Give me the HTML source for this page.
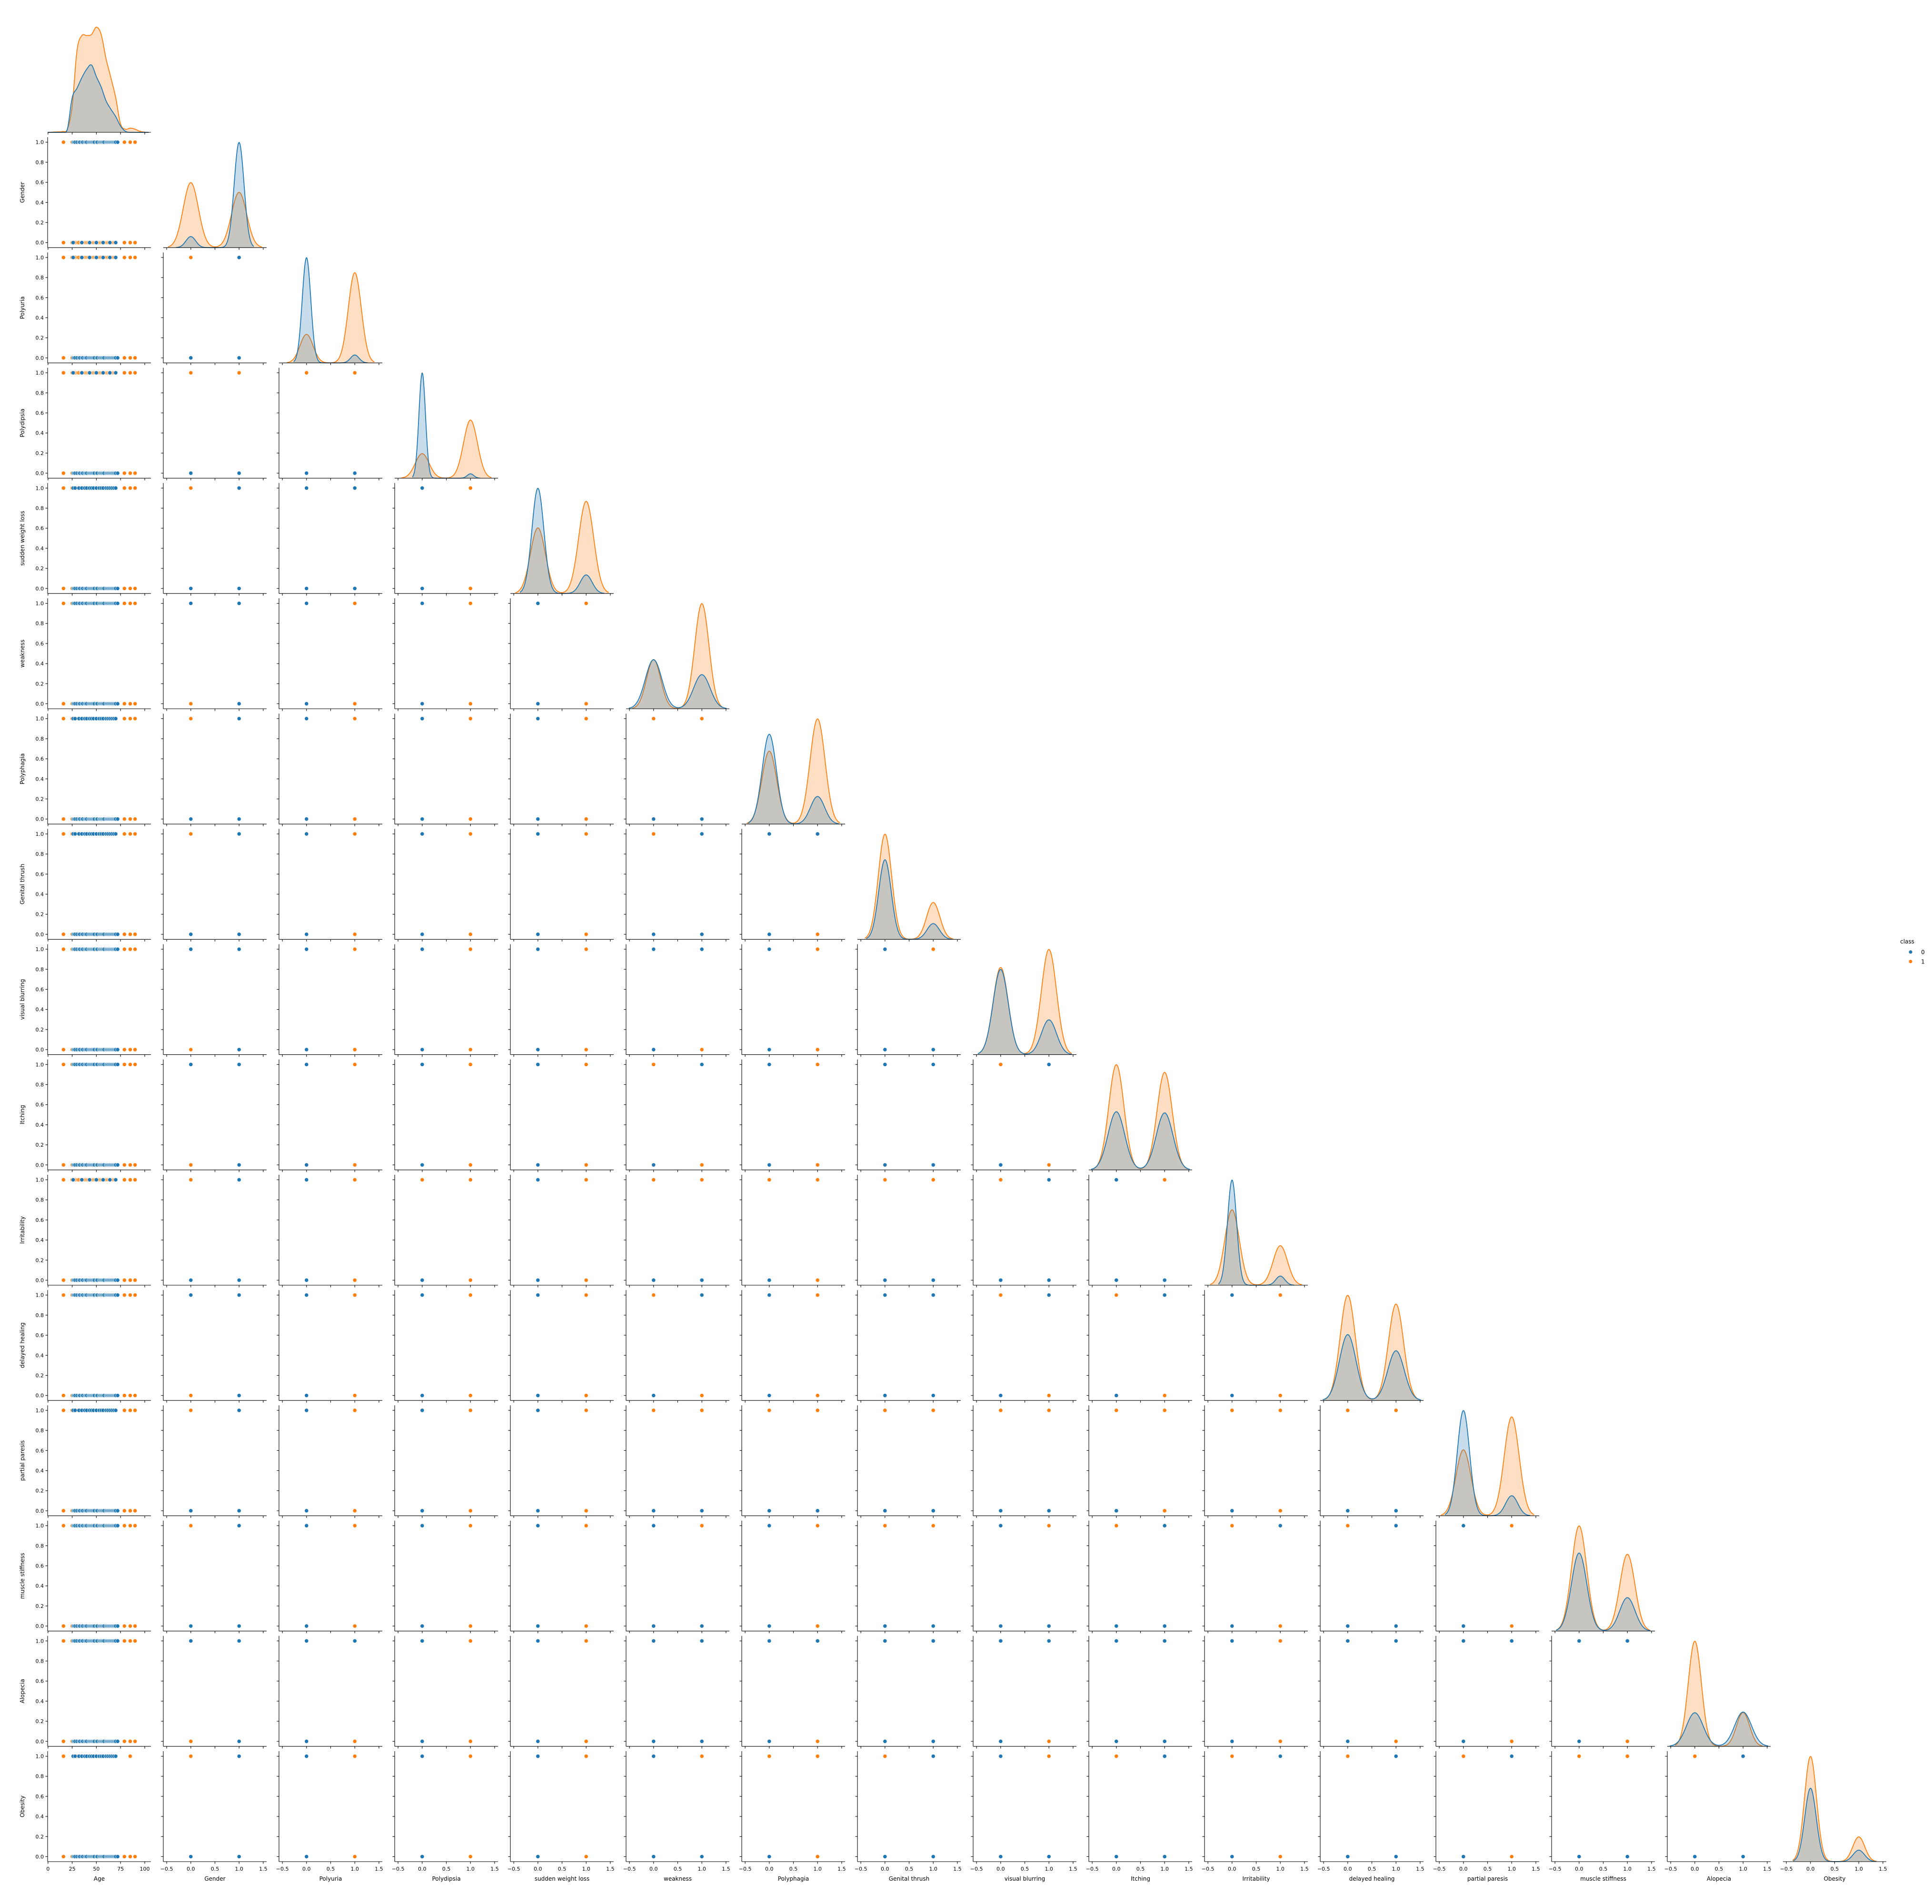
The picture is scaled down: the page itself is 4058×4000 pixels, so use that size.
<!DOCTYPE html>
<html><head><meta charset="utf-8"><title>Pairplot</title>
<style>
html,body{margin:0;padding:0;background:#fff;}
svg{display:block;font-family:"DejaVu Sans","Liberation Sans",sans-serif;}
</style></head>
<body>
<svg id="chart" xmlns="http://www.w3.org/2000/svg" width="4058" height="4000" viewBox="0 0 4058 4000"></svg>
<script>
// ---- data ----
const varNames = ["Age","Gender","Polyuria","Polydipsia","sudden weight loss","weakness","Polyphagia","Genital thrush","visual blurring","Itching","Irritability","delayed healing","partial paresis","muscle stiffness","Alopecia","Obesity"];
const classSizes = [200, 320];
const yesCountClass0 = [0,181,14,8,30,82,47,33,58,99,16,86,32,60,101,27];
const yesCountClass1 = [0,147,243,225,187,218,189,83,175,154,110,153,192,135,78,61];
const ageGrid = [0,5,10,15,20,25,30,35,40,45,50,55,60,65,70,75,80,85,90,95,100,104];
const ageDensity0 = [0,0,0,0,0.03,0.33,0.42,0.52,0.6,0.64,0.53,0.43,0.3,0.22,0.15,0.06,0.01,0,0,0,0,0];
const ageDensity1 = [0,0.002,0.004,0.008,0.03,0.25,0.78,0.92,0.92,0.93,1.0,0.93,0.7,0.52,0.33,0.08,0.03,0.04,0.03,0.01,0.002,0];
const agesClass0 = [26,27,28,30,32,33,35,36,38,39,40,42,43,44,45,46,47,48,50,51,53,54,55,56,57,58,60,61,62,63,64,65,66,67,68,69,70,72];
const agesClass1 = [16,25,27,28,30,31,32,34,35,36,37,38,39,40,41,42,43,45,46,47,48,49,50,51,52,53,54,55,56,57,58,59,60,61,62,63,64,65,66,67,68,69,70,79,85,90];
// cell colours at corners: (0,1),(1,1),(0,0),(1,0); b=class 0, o=class 1
const cornerColors = {
"2-1":"obbb",
"3-1":"oobb","3-2":"oobb",
"4-1":"obbb","4-2":"bbbb","4-3":"bobo",
"5-1":"bbob","5-2":"bobo","5-3":"bobo","5-4":"bobo",
"6-1":"obbb","6-2":"bobo","6-3":"bobo","6-4":"bobo","6-5":"oobb",
"7-1":"obbb","7-2":"bobo","7-3":"bobo","7-4":"bobo","7-5":"obbb","7-6":"bbbo",
"8-1":"bbob","8-2":"bobo","8-3":"bobo","8-4":"bobo","8-5":"bbbo","8-6":"bobo","8-7":"bobb",
"9-1":"bbob","9-2":"bobo","9-3":"bobo","9-4":"bobo","9-5":"obbo","9-6":"bobo","9-7":"bbbb","9-8":"obbo",
"10-1":"obbb","10-2":"bobo","10-3":"oobo","10-4":"bobo","10-5":"oobb","10-6":"oobo","10-7":"oobb","10-8":"obbb","10-9":"bobb",
"11-1":"bbob","11-2":"bobo","11-3":"bobo","11-4":"bobo","11-5":"obbo","11-6":"bobo","11-7":"bbbb","11-8":"obbo","11-9":"obbo","11-10":"bobo",
"12-1":"obbb","12-2":"bobo","12-3":"bobo","12-4":"bobo","12-5":"oobb","12-6":"oobb","12-7":"oobb","12-8":"oobb","12-9":"oobo","12-10":"oobo","12-11":"oobb",
"13-1":"obbb","13-2":"bobo","13-3":"bobo","13-4":"bobo","13-5":"bobb","13-6":"bobo","13-7":"oobb","13-8":"bobb","13-9":"obbb","13-10":"obbo","13-11":"obbb","13-12":"bobo",
"14-1":"bbob","14-2":"bbbo","14-3":"bobo","14-4":"bobo","14-5":"bbbb","14-6":"bbbo","14-7":"bbbb","14-8":"bbbo","14-9":"bbbb","14-10":"bobo","14-11":"bbbo","14-12":"bbbo","14-13":"bbbo",
"15-1":"obbb","15-2":"bobo","15-3":"bobo","15-4":"bobo","15-5":"bobb","15-6":"oobo","15-7":"obbb","15-8":"bobb","15-9":"obbb","15-10":"obbo","15-11":"obbb","15-12":"obbo","15-13":"oobb","15-14":"obbb"
};
const ageTicks = [0,25,50,75,100];
const binTicks = [-0.5,0,0.5,1,1.5];
const binTickLabels = ["\u22120.5","0.0","0.5","1.0","1.5"];
const yTicks = [0,0.2,0.4,0.6,0.8,1.0];
const yTickLabels = ["0.0","0.2","0.4","0.6","0.8","1.0"];

// ---- layout ----
const NS = "http://www.w3.org/2000/svg";
const svg = document.getElementById("chart");
const BLUE = "#1f77b4", ORANGE = "#ff7f0e";
const W = 217, H = 232;
function colLeft(j){ return 100 + j*243; }
function rowBottom(i){ return 278 + i*242.2; }
function mk(tag, attrs, parent){ const e = document.createElementNS(NS, tag); for (const k in attrs) e.setAttribute(k, attrs[k]); (parent||svg).appendChild(e); return e; }
function xScale(j){ const l = colLeft(j); if (j===0) return v => l + (v+0.4)/106.8*W; return v => l + (v+0.57)/2.14*W; }
function yScale(i){ const b = rowBottom(i); return v => b - (v+0.05)/1.1*H; }

function kdeBinary(c, n, bwF){
  const p = c/n; const sd = Math.sqrt(p*(1-p)*n/(n-1)); const bw = bwF*sd;
  const xs=[], ys=[]; const lo=-3*bw, hi=1+3*bw;
  for (let k=0;k<=200;k++){ const x=lo+(hi-lo)*k/200;
    const g0=Math.exp(-0.5*(x/bw)**2), g1=Math.exp(-0.5*((x-1)/bw)**2);
    ys.push(((n-c)*g0 + c*g1)/(bw*Math.sqrt(2*Math.PI))/ (classSizes[0]+classSizes[1])); xs.push(x); }
  return {xs, ys};
}
function catmull(gx, gy, steps){
  const xs=[], ys=[];
  for (let k=0;k<gx.length-1;k++){
    const p0=gy[Math.max(k-1,0)], p1=gy[k], p2=gy[k+1], p3=gy[Math.min(k+2,gy.length-1)];
    for (let s=0;s<steps;s++){ const t=s/steps;
      const v=0.5*((2*p1)+(-p0+p2)*t+(2*p0-5*p1+4*p2-p3)*t*t+(-p0+3*p1-3*p2+p3)*t*t*t);
      xs.push(gx[k]+(gx[k+1]-gx[k])*t); ys.push(Math.max(0,v)); }
  }
  xs.push(gx[gx.length-1]); ys.push(gy[gy.length-1]);
  return {xs, ys};
}

function drawXAxis(i, j, g){
  const b = rowBottom(i), l = colLeft(j), xs = xScale(j);
  const spine = mk("line",{x1:l,x2:l+W,y1:b,y2:b,stroke:"#000","stroke-width":1.1},g);
  
  
  const ticks = j===0 ? ageTicks : binTicks;
  ticks.forEach((t,k)=>{
    const x = xs(t);
    mk("line",{x1:x,x2:x,y1:b,y2:b+4.5,stroke:"#000","stroke-width":1.1},g);
    if (i===15){
      const tx = mk("text",{x:x,y:b+19,"font-size":11,"text-anchor":"middle",fill:"#000"},g);
      tx.textContent = j===0 ? String(t) : binTickLabels[k];
      
      
    }
  });
  if (i===15){
    const lab = mk("text",{x:l+W/2,y:b+40,"font-size":12,"text-anchor":"middle",fill:"#000"},g);
    lab.textContent = varNames[j];
    
    
  }
}
function drawYAxis(i, j, g){
  const b = rowBottom(i), l = colLeft(j), ys = yScale(i);
  const spine = mk("line",{x1:l,x2:l,y1:b,y2:b-H,stroke:"#000","stroke-width":1.1},g);
  
  
  yTicks.forEach((t,k)=>{
    const y = ys(t);
    mk("line",{x1:l-4.5,x2:l,y1:y,y2:y,stroke:"#000","stroke-width":1.1},g);
    if (j===0){
      const tx = mk("text",{x:l-8,y:y+4,"font-size":11,"text-anchor":"end",fill:"#000"},g);
      tx.textContent = yTickLabels[k];
      
      
    }
  });
  if (j===0){
    const cy = b - H/2;
    const lab = mk("text",{x:0,y:0,"font-size":12,"text-anchor":"middle",fill:"#000",transform:`translate(51,${cy}) rotate(-90)`},g);
    lab.textContent = varNames[i];
    
    
  }
}
function dot(x,y,color,g){
  const c = mk("circle",{cx:x,cy:y,r:4.2,fill:color,stroke:"#fff","stroke-width":0.8},g);
  
  
}
function drawCurve(xs, ys, xsc, ysc, color, g, name){
  let d = `M${xsc(xs[0])},${ysc(0)}`;
  for (let k=0;k<xs.length;k++) d += ` L${xsc(xs[k]).toFixed(2)},${ysc(ys[k]).toFixed(2)}`;
  const dl = d.replace(/^M[^L]*/, 'M'+xsc(xs[0]).toFixed(2)+','+ysc(ys[0]).toFixed(2)+' ');
  const f = mk("path",{d:d+` L${xsc(xs[xs.length-1])},${ysc(0)} Z`,fill:color,"fill-opacity":0.25,stroke:"none"},g);
  
  
  const ln = mk("path",{d:dl,fill:"none",stroke:color,"stroke-width":1.8},g);
  
  
}

for (let i=0;i<16;i++){
  for (let j=0;j<=i;j++){
    const g = mk("g",{});
    
    
    const xs = xScale(j), b = rowBottom(i);
    if (i===j){
      let c0, c1;
      if (i===0){ c0 = catmull(ageGrid, ageDensity0, 8); c1 = catmull(ageGrid, ageDensity1, 8); }
      else {
        c0 = kdeBinary(yesCountClass0[i], classSizes[0], Math.pow(classSizes[0],-0.2));
        c1 = kdeBinary(yesCountClass1[i], classSizes[1], Math.pow(classSizes[1],-0.2));
      }
      const mx = Math.max(...c0.ys, ...c1.ys)*1.05;
      const ysc = v => b - v/mx*H;
      drawCurve(c1.xs, c1.ys, xs, ysc, ORANGE, g, 'kde-class-1');
      drawCurve(c0.xs, c0.ys, xs, ysc, BLUE, g, 'kde-class-0');
      drawXAxis(i,j,g);
    } else {
      const ys = yScale(i);
      if (j===0){
        const n0y = yesCountClass0[i], n1y = yesCountClass1[i];
        const stepB1 = n0y<20 ? 6 : (n0y<50 ? 2 : 1);
        const stepB0 = (200-n0y)<20 ? 6 : ((200-n0y)<50 ? 2 : 1);
        const stepO1 = n1y<70 ? 2 : 1;
        const stepO0 = (320-n1y)<70 ? 2 : 1;
        agesClass1.forEach((a,k)=>{ if (k%stepO1===0) dot(xs(a),ys(1),ORANGE,g); if (k%stepO0===1%stepO0) dot(xs(a),ys(0),ORANGE,g); });
        agesClass0.forEach((a,k)=>{ if (k%stepB1===0) dot(xs(a),ys(1),BLUE,g); if (k%stepB0===0) dot(xs(a),ys(0),BLUE,g); });
      } else {
        const code = cornerColors[i+"-"+j] || "bbbb";
        const pts = [[0,1],[1,1],[0,0],[1,0]];
        pts.forEach((p,k)=>{ const ch = code[k]; if (ch==='b') dot(xs(p[0]),ys(p[1]),BLUE,g); else if (ch==='o') dot(xs(p[0]),ys(p[1]),ORANGE,g); });
      }
      drawXAxis(i,j,g);
      drawYAxis(i,j,g);
    }
  }
}

// legend
const lg = mk("g",{});


const lt = mk("text",{x:4006,y:1982,"font-size":12,"text-anchor":"middle",fill:"#000"},lg);
lt.textContent = "class";


[["0",BLUE,2000],["1",ORANGE,2020]].forEach(e=>{
  const c = mk("circle",{cx:4013,cy:e[2],r:3.6,fill:e[1]},lg);
  
  
  const t = mk("text",{x:4039,y:e[2]+4.5,"font-size":12,"text-anchor":"middle",fill:"#000"},lg);
  t.textContent = e[0];
  
  
});
</script>
</body></html>
